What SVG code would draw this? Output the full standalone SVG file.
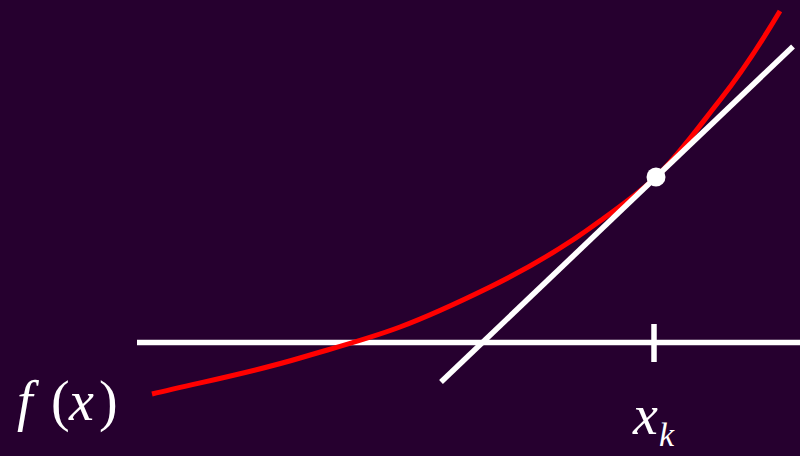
<svg xmlns="http://www.w3.org/2000/svg" width="800" height="456" viewBox="0 0 800 456">
  <style>
    .bg { fill: #26002f; }
    .white { stroke: #ffffff; stroke-width: 5.5; fill: none; stroke-linecap: butt; }
    .curve { stroke: #ff0000; stroke-width: 5; fill: none; stroke-linecap: butt; }
    .lbl { font-family: "Liberation Serif", "Times New Roman", serif; fill: #ffffff; }
  </style>
  <rect class="bg" x="0" y="0" width="800" height="456"/>
  <g id="connectors">
    <line id="axis" class="white" x1="137" y1="342.5" x2="800" y2="342.5"/>
    <line id="tick" class="white" x1="654" y1="324" x2="654" y2="362"/>
    <path id="curve" class="curve" d="M152,394 C201.3,382 250.7,372.8 300,358 C333.3,348 366.7,339.5 400,327 C430,315.75 460,301.7 490,287 C526.7,269 563.3,248.1 600,221 C618.7,207.2 637.3,194.5 656,177 C677.3,157 698.7,126.9 720,100 C740,74.8 760,44.6 780,11"/>
    <line id="tangent" class="white" x1="441" y1="382" x2="793" y2="46.5"/>
  </g>
  <g id="point">
    <circle cx="656" cy="177" r="9.5" fill="#ffffff"/>
  </g>
  <g id="label-fx">
    <text class="lbl" font-size="56" y="420"><tspan x="17" font-style="italic">f</tspan><tspan x="51">(</tspan><tspan x="69" font-style="italic">x</tspan><tspan x="99">)</tspan></text>
  </g>
  <g id="label-xk">
    <text class="lbl" font-size="56" font-style="italic" x="633" y="434">x</text>
    <text class="lbl" font-size="34" font-style="italic" x="659" y="446">k</text>
  </g>
</svg>
